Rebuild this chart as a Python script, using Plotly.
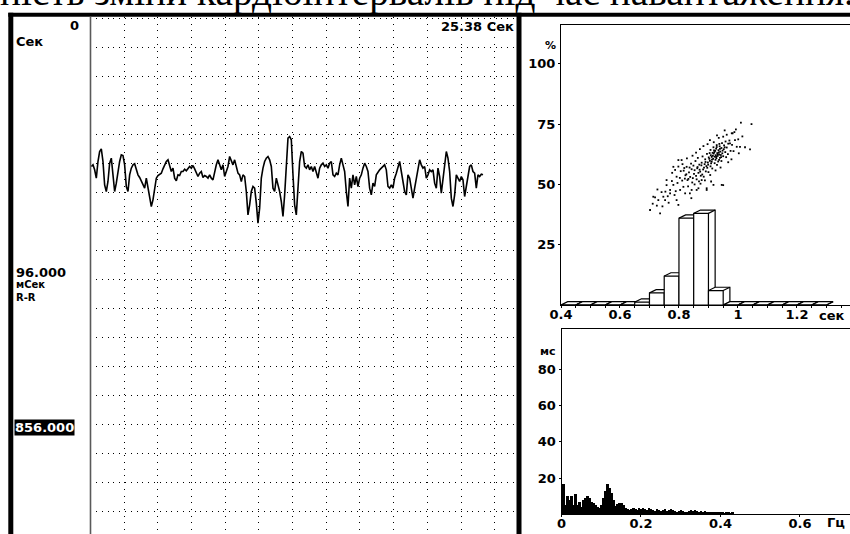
import plotly.graph_objects as go

W, H = 850, 534

def px(x):
    return x / W

def py(y):
    return 1 - y / H

# ---------------- data ----------------
# R-R interval trace (ms), evenly sampled
rr_ms = [
    847, 852, 837, 812, 862, 892, 900, 862, 792, 772,
    802, 857, 872, 822, 772, 797, 832, 862, 882, 880,
    852, 787, 772, 822, 842, 852, 855, 837, 822, 814,
    802, 792, 782, 812, 782, 747, 727, 747, 787, 812,
    820, 824, 827, 840, 854, 862, 867, 852, 832, 842,
    812, 804, 822, 820, 832, 832, 839, 834, 842, 847,
    842, 850, 840, 827, 817, 827, 832, 814, 820, 817,
    812, 822, 812, 807, 832, 852, 867, 852, 837, 852,
    817, 832, 847, 877, 862, 852, 867, 842, 827, 822,
    802, 822, 817, 772, 702, 732, 772, 787, 782, 737,
    677, 722, 812, 842, 862, 872, 877, 867, 847, 782,
    772, 812, 792, 772, 742, 697, 762, 852, 932, 937,
    927, 822, 732, 702, 772, 862, 892, 887, 847, 842,
    852, 837, 847, 832, 847, 827, 812, 842, 852, 857,
    847, 852, 842, 857, 862, 822, 817, 827, 822, 852,
    872, 852, 832, 772, 727, 812, 782, 822, 792, 817,
    787, 812, 822, 842, 857, 847, 832, 782, 762, 797,
    787, 822, 832, 837, 842, 847, 852, 837, 787, 782,
    792, 782, 812, 827, 842, 862, 832, 797, 772, 762,
    822, 812, 782, 752, 782, 812, 832, 867, 852, 842,
    847, 812, 822, 837, 832, 837, 797, 782, 842, 817,
    767, 807, 852, 892, 872, 832, 752, 727, 762, 822,
    812, 802, 817, 807, 757, 787, 822, 847, 852, 832,
    827, 782, 822, 817, 824, 822,
]
rr_t0 = 0.06      # s
rr_dt = 0.0989    # s per sample
rr_t = [rr_t0 + i * rr_dt for i in range(len(rr_ms))]
rr_mean = 856
rr_total = 25.38

# Histogram of R-R intervals (%), bins of 0.05 s starting at 0.40 s
hist_start = 0.40
hist_bin = 0.05
hist_pct = [0, 0, 0, 0, 0, 1.2, 5, 12, 36, 38, 6, 0, 0, 0, 0, 0, 0, 0]

# scatter cloud (sec, %)
sc_pts = [
    (0.930, 63.0), (0.925, 62.1), (0.934, 64.2), (0.921, 61.5), (0.940, 63.6), (0.918, 62.8), (0.927, 60.9), (0.936, 62.4), (0.944, 65.1), (0.912, 60.3),
    (0.905, 59.8), (0.915, 61.9), (0.948, 64.0), (0.953, 66.2), (0.909, 58.7), (0.898, 59.1), (0.923, 63.9), (0.931, 61.8), (0.942, 62.2), (0.938, 65.8),
    (0.901, 61.2), (0.893, 57.6), (0.887, 58.4), (0.896, 56.9), (0.882, 56.2), (0.876, 57.9), (0.889, 60.4), (0.872, 55.3), (0.866, 54.8), (0.879, 54.1),
    (0.862, 56.7), (0.858, 53.5), (0.869, 58.2), (0.853, 55.9), (0.847, 52.6), (0.851, 54.4), (0.843, 56.3), (0.838, 53.1), (0.834, 55.0), (0.829, 51.8),
    (0.825, 54.2), (0.820, 52.4), (0.816, 55.7), (0.811, 51.6), (0.826, 57.3), (0.841, 58.6), (0.856, 59.7), (0.864, 61.0), (0.880, 61.6), (0.895, 62.7),
    (0.907, 64.3), (0.917, 65.4), (0.928, 66.3), (0.946, 67.1), (0.958, 67.8), (0.962, 65.3), (0.967, 66.9), (0.971, 68.2), (0.957, 63.4), (0.950, 61.7),
    (0.936, 60.2), (0.921, 58.8), (0.907, 57.5), (0.891, 55.4), (0.874, 53.6), (0.860, 52.1), (0.845, 50.8), (0.868, 51.3), (0.884, 53.2), (0.900, 55.1),
    (0.913, 56.6), (0.929, 58.1), (0.944, 59.7), (0.960, 61.3), (0.975, 63.9), (0.980, 66.4), (0.966, 62.6), (0.952, 64.6), (0.939, 61.0), (0.926, 64.8),
    (0.914, 63.1), (0.903, 60.6), (0.890, 59.3), (0.877, 59.0), (0.863, 57.2), (0.849, 57.8), (0.836, 57.0), (0.822, 53.8), (0.832, 52.3), (0.870, 56.1),
    (0.885, 57.0), (0.899, 58.2), (0.911, 59.4), (0.924, 60.2), (0.933, 59.5), (0.947, 62.9), (0.955, 65.4), (0.935, 63.3), (0.919, 64.1), (0.908, 62.1),
    (0.931, 62.5), (0.926, 61.4), (0.939, 64.7), (0.916, 60.6), (0.943, 61.3), (0.920, 63.4), (0.928, 65.5), (0.911, 61.4), (0.904, 63.0), (0.937, 66.8),
    (0.702, 39.4), (0.719, 44.6), (0.736, 38.0), (0.753, 43.5), (0.770, 47.7), (0.781, 49.8), (0.792, 53.2), (0.758, 51.8), (0.804, 47.7), (0.821, 46.3),
    (0.843, 47.7), (0.866, 48.4), (0.894, 47.7), (0.917, 49.8), (0.945, 49.8), (0.787, 56.0), (0.809, 60.1), (0.798, 57.4), (0.713, 44.9), (0.730, 43.5),
    (0.747, 44.9), (0.758, 49.7), (0.770, 46.3), (0.781, 57.3), (0.798, 60.1), (0.792, 43.5), (0.798, 41.5), (0.815, 49.0), (0.837, 46.3), (0.860, 47.7),
    (0.877, 51.8), (0.894, 48.4), (0.950, 49.7), (1.010, 75.6), (1.046, 75.0), (1.041, 64.5), (0.950, 69.8), (0.905, 68.4), (0.982, 71.2), (0.988, 71.7),
    (1.007, 65.6), (0.990, 68.4), (0.973, 67.0), (0.979, 71.2), (1.001, 68.7), (1.024, 65.4), (0.996, 65.6), (0.962, 70.6), (0.985, 63.8), (1.015, 69.9),
    (0.725, 41.2), (0.741, 46.8), (0.762, 45.1), (0.776, 51.4), (0.789, 47.2), (0.803, 52.7), (0.812, 58.4), (0.827, 60.8), (0.846, 61.9), (0.858, 63.2),
    (0.871, 64.6), (0.883, 65.9), (0.897, 66.7), (0.935, 69.3), (0.918, 67.5), (0.967, 59.2), (0.941, 57.0), (0.924, 55.8), (0.906, 53.9), (0.888, 51.7),
    (0.853, 50.0), (0.831, 49.2), (0.818, 56.8), (0.806, 55.5), (0.795, 50.6), (0.765, 42.4), (0.744, 40.9), (0.727, 47.9), (0.711, 42.0), (0.777, 54.8),
    (0.993, 72.8), (0.955, 72.4), (0.929, 70.3), (1.003, 62.9), (0.978, 60.4), (0.909, 51.2), (0.873, 50.3), (0.842, 44.3), (0.785, 45.6), (0.754, 47.0),
]
sc_x = [p[0] for p in sc_pts]
sc_y = [p[1] for p in sc_pts]

# Spectrum (ms) at 0.005 Hz steps from 0 Hz
spec_step = 0.005
spec_ms = [
    5, 16.5, 5, 10, 8, 10, 5, 11, 5, 7,
    4, 8, 9, 10, 9, 7, 6, 5, 4, 3.5,
    5, 9, 13, 16.5, 14.5, 12, 8, 4.5, 5.5, 6,
    6.5, 5, 3.5,
    3, 2.5, 3, 3.5, 3, 2.5, 3.5,
    3, 3.5, 3, 2.5, 3.5, 3, 2.5, 2, 3, 2.5,
    2, 2.5, 3, 2, 2.5, 3, 2.5, 2, 1.5, 2,
    2.5, 2, 1.5, 1, 2, 2.5, 2, 2.5, 2, 1.5,
    2, 1.5, 1.8, 1.2, 1.5, 1, 1.3, 1.5, 1, 1.5,
    1.2, 1, 0.8, 1.5, 1.2, 0.5, 1.5,
]
spec_f = [i * spec_step for i in range(len(spec_ms))]

# tick labels
hist_ticks = [0.4, 0.6, 0.8, 1.0, 1.2]
hist_ticktext = ["0.4", "0.6", "0.8", "1", "1.2"]
hist_yticks = [25, 50, 75, 100]
spec_ticks = [0, 0.2, 0.4, 0.6]
spec_ticktext = ["0", "0.2", "0.4", "0.6"]
spec_yticks = [20, 40, 60, 80]

# ---------------- figure ----------------
BOLD = "DejaVu Sans"
fig = go.Figure()

# R-R trace
fig.add_trace(go.Scatter(x=rr_t, y=rr_ms, mode="lines", xaxis="x", yaxis="y",
                         line=dict(color="black", width=1.6), hoverinfo="skip", showlegend=False))

# 3D histogram bars
dx_3d = 0.0227
dy_3d = 1.37
for i, h in enumerate(hist_pct):
    x0 = hist_start + i * hist_bin
    x1 = x0 + hist_bin
    fig.add_trace(go.Scatter(
        x=[x0, x0, x0 + dx_3d, x1 + dx_3d, x1 + dx_3d, x1, x0],
        y=[0, h, h + dy_3d, h + dy_3d, dy_3d, 0, 0],
        mode="lines", fill="toself", fillcolor="white",
        line=dict(color="black", width=1.2), xaxis="x2", yaxis="y2",
        hoverinfo="skip", showlegend=False))
    fig.add_trace(go.Scatter(
        x=[x0, x1, x1, None, x1, x1 + dx_3d],
        y=[h, h, 0, None, h, h + dy_3d],
        mode="lines", line=dict(color="black", width=1.2), xaxis="x2", yaxis="y2",
        hoverinfo="skip", showlegend=False))

# scatter cloud
fig.add_trace(go.Scatter(x=sc_x, y=sc_y, mode="markers", xaxis="x2", yaxis="y2",
                         marker=dict(color="black", size=1.8, symbol="square", line=dict(width=0)),
                         hoverinfo="skip", showlegend=False))

# spectrum
fig.add_trace(go.Bar(x=spec_f, y=spec_ms, width=spec_step, xaxis="x3", yaxis="y3",
                     marker=dict(color="black", line=dict(width=0)),
                     hoverinfo="skip", showlegend=False))

tickfont = dict(family=BOLD, size=13, color="black", weight="bold")

grid_ms = 86.9
left_y_top = rr_mean + (163.5 - 17) * 3
left_y_bot = rr_mean - (534 - 163.5) * 3

fig.update_layout(
    width=W, height=H, autosize=False,
    margin=dict(l=0, r=0, t=0, b=0, pad=0, autoexpand=False),
    paper_bgcolor="white", plot_bgcolor="white",
    bargap=0,
    xaxis=dict(domain=[px(90.3), px(518)], range=[0, rr_total], anchor="y",
               showgrid=True, dtick=2, tick0=0, gridcolor="black", gridwidth=1,
               griddash="1px,5.74px", showticklabels=False, zeroline=False,
               showline=False, ticks=""),
    yaxis=dict(domain=[0, py(17)], range=[left_y_bot, left_y_top], anchor="x",
               showgrid=True, dtick=grid_ms, tick0=rr_mean, gridcolor="black", gridwidth=1,
               griddash="1px,4.79px", showticklabels=False, zeroline=False,
               showline=False, ticks=""),
    xaxis2=dict(domain=[px(561), 1], range=[0.4, 1.38], anchor="y2",
                tickvals=hist_ticks, ticktext=hist_ticktext, tickfont=tickfont,
                showline=True, linecolor="black", linewidth=1, mirror=True,
                ticks="outside", ticklen=2, tickcolor="black", ticklabelstandoff=-5,
                minor=dict(dtick=hist_bin, tick0=hist_start, ticks="outside", ticklen=2, tickcolor="black"),
                showgrid=False, zeroline=False),
    yaxis2=dict(domain=[py(305), py(25)], range=[0, 116.1], anchor="x2",
                tickvals=hist_yticks, tickfont=tickfont,
                showline=True, linecolor="black", linewidth=1,
                ticks="outside", ticklen=2, tickcolor="black",
                showgrid=False, zeroline=False),
    xaxis3=dict(domain=[px(561.5), 1], range=[0, 0.726], anchor="y3",
                tickvals=spec_ticks, ticktext=spec_ticktext, tickfont=tickfont,
                showline=True, linecolor="black", linewidth=1, mirror=True,
                ticks="outside", ticklen=2, tickcolor="black", ticklabelstandoff=-5,
                showgrid=False, zeroline=False),
    yaxis3=dict(domain=[py(514.3), py(329)], range=[0, 102.1], anchor="x3",
                tickvals=spec_yticks, tickfont=tickfont,
                showline=True, linecolor="black", linewidth=1,
                ticks="outside", ticklen=2, tickcolor="black",
                showgrid=False, zeroline=False),
)

# frame shapes
shapes = [
    dict(type="rect", xref="paper", yref="paper", x0=px(8.3), x1=px(13.3), y0=py(534), y1=py(12.7),
         fillcolor="black", line=dict(width=0), layer="above"),
    dict(type="rect", xref="paper", yref="paper", x0=px(8.3), x1=px(850), y0=py(16.7), y1=py(12.7),
         fillcolor="black", line=dict(width=0), layer="above"),
    dict(type="rect", xref="paper", yref="paper", x0=px(516.5), x1=px(521.5), y0=py(534), y1=py(12.7),
         fillcolor="black", line=dict(width=0), layer="above"),
    dict(type="line", xref="paper", yref="paper", x0=px(90.5), x1=px(90.5), y0=py(534), y1=py(16.7),
         line=dict(color="#5a5a5a", width=1.6), layer="above"),
]
fig.update_layout(shapes=shapes)

lab = dict(family=BOLD, size=13, color="black", weight="bold")
mid = dict(family=BOLD, size=11, color="black", weight="bold")
small = dict(family=BOLD, size=10, color="black", weight="bold")
annotations = [
    dict(text="ність зміни кардіоінтервалів під час навантаження.", x=px(-2), y=py(16.5),
         xanchor="left", yanchor="bottom",
         font=dict(family="Liberation Serif", size=39.3, color="black")),
    dict(text="0", x=px(81), y=py(25), xanchor="right", yanchor="middle", font=lab),
    dict(text="Сек", x=px(14), y=py(42), xanchor="left", yanchor="middle", font=lab),
    dict(text="25.38 Сек", x=px(516), y=py(16.8), xanchor="right", yanchor="top", font=lab),
    dict(text="96.000", x=px(14), y=py(272), xanchor="left", yanchor="middle", font=lab),
    dict(text="мСек<br>R-R", x=px(14), y=py(290.5), xanchor="left", yanchor="middle", align="left",
         font=small),
    dict(text="856.000", x=px(14), y=py(427), xanchor="left", yanchor="middle",
         font=dict(family=BOLD, size=13, color="white", weight="bold"), bgcolor="black", borderpad=0),
    dict(text="%", x=px(558), y=py(46), xanchor="right", yanchor="middle", font=mid),
    dict(text="сек", x=px(817), y=py(315), xanchor="left", yanchor="middle", font=lab),
    dict(text="мс", x=px(558), y=py(352), xanchor="right", yanchor="middle", font=mid),
    dict(text="Гц", x=px(825), y=py(522), xanchor="left", yanchor="middle", font=lab),
]
for a in annotations:
    a.update(xref="paper", yref="paper", showarrow=False)
fig.update_layout(annotations=annotations)

fig.write_html("out.html", config={"displayModeBar": False},
               post_script="document.body.style.margin='0';")
